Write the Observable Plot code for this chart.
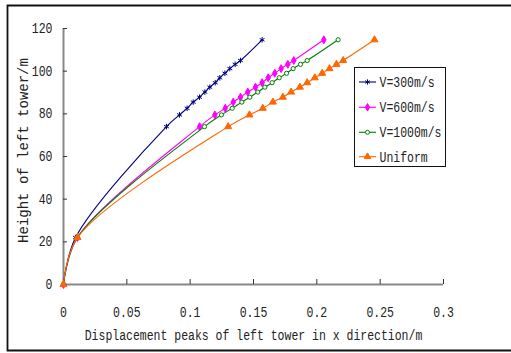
<!DOCTYPE html>
<html><head><meta charset="utf-8">
<script src="https://cdn.jsdelivr.net/npm/d3@7"></script>
<script src="https://cdn.jsdelivr.net/npm/@observablehq/plot@0.6"></script>
<style>body{margin:0;background:#fff}</style>
</head><body><div id="chart"></div>
<script>
const seriesNames = ["V=300m/s", "V=600m/s", "V=1000m/s", "Uniform"];
const heights = [0, 22, 74, 79.5, 82.6, 85.5, 87.8, 90.2, 92.5, 94.6, 96.9, 99, 101.2, 103.2, 105, 114.7];
const x300  = [0, 0.0095, 0.0813, 0.0916, 0.0976, 0.1024, 0.1074, 0.1116, 0.1155, 0.1198, 0.1234, 0.1274, 0.1313, 0.1355, 0.1397, 0.1568];
const x600  = [0, 0.0110, 0.1074, 0.1195, 0.1277, 0.1340, 0.1397, 0.1455, 0.1516, 0.1568, 0.1616, 0.1668, 0.1718, 0.1771, 0.1818, 0.2055];
const x1000 = [0, 0.0110, 0.1113, 0.1247, 0.1332, 0.1408, 0.1471, 0.1534, 0.1590, 0.1647, 0.1703, 0.1761, 0.1813, 0.1871, 0.1924, 0.2168];
const xUni  = [0, 0.0111, 0.1300, 0.1468, 0.1573, 0.1653, 0.1732, 0.1797, 0.1866, 0.1924, 0.1984, 0.2042, 0.2100, 0.2155, 0.2208, 0.2455];
const xTicks = [0, 0.05, 0.1, 0.15, 0.2, 0.25, 0.3];
const xTickLabels = ["0", "0.05", "0.1", "0.15", "0.2", "0.25", "0.3"];
const yTicks = [0, 20, 40, 60, 80, 100, 120];
const xTitle = "Displacement peaks of left tower in x direction/m";
const yTitle = "Height of left tower/m";
const colors = ["#000080", "#FF00FF", "#008000", "#FF6600"];
const symbols = ["asterisk", "diamond", "circle", "triangle"];
const fills = ["none", "#FF00FF", "white", "#FF6600"];
const rs = [2.6, 2.4, 2.1, 2.6];

const allX = [x300, x600, x1000, xUni];
const data = [];
allX.forEach((xs, i) => xs.forEach((x, j) => data.push({series: seriesNames[i], x, y: heights[j]})));

const marks = [
  Plot.ruleY([0], {stroke: "#888", strokeWidth: 2}),
  Plot.ruleX([0], {stroke: "#888", strokeWidth: 2}),
  Plot.axisX({ticks: xTicks, tickFormat: d => xTickLabels[xTicks.indexOf(d)], tickSize: -5, tickPadding: 28, stroke: "#333", label: null, fill: "#222"}),
  Plot.axisY({ticks: yTicks, tickSize: -4, tickPadding: 15, stroke: "#333", label: null, fill: "#222"}),
  Plot.text([xTitle], {frameAnchor: "bottom", textAnchor: "middle", dy: 55, fill: "#222"}),
  Plot.text([yTitle], {frameAnchor: "left", textAnchor: "middle", rotate: -90, dx: -40, dy: -6, fill: "#222"})
];
seriesNames.forEach((s, i) => {
  const d = data.filter(p => p.series === s);
  marks.push(Plot.line(d, {x: "x", y: "y", stroke: colors[i], strokeWidth: 1.1, curve: "catmull-rom"}));
  marks.push(Plot.dot(d, {x: "x", y: "y", symbol: () => symbols[i], r: rs[i], stroke: colors[i], fill: fills[i], strokeWidth: 1}));
});

const chart = Plot.plot({
  width: 511, height: 353,
  marginLeft: 63, marginRight: 68, marginTop: 28, marginBottom: 69,
  x: {domain: [0, 0.3]},
  y: {domain: [0, 120]},
  symbol: {type: "identity"},
  style: {fontFamily: "Liberation Mono", fontSize: "14px", background: "white"},
  marks
});
document.getElementById("chart").append(chart);

const svg = d3.select(chart);
// outer figure frame
svg.append("path").attr("d", "M511,5.5H7.5V350.5H511").attr("fill", "none").attr("stroke", "#111").attr("stroke-width", 1.8);

// legend
const lg = svg.append("g").attr("text-anchor", "start");
lg.append("rect").attr("x", 354.5).attr("y", 67.5).attr("width", 91).attr("height", 99).attr("fill", "white").attr("stroke", "#111");
const rowsY = [82, 107.3, 132.3, 156.7];
const symMap = {asterisk: d3.symbolAsterisk, diamond: d3.symbolDiamond, circle: d3.symbolCircle, triangle: d3.symbolTriangle};
seriesNames.forEach((s, i) => {
  const y = rowsY[i];
  lg.append("line").attr("x1", 359).attr("x2", 376).attr("y1", y).attr("y2", y).attr("stroke", colors[i]).attr("stroke-width", 1.1);
  lg.append("path").attr("transform", `translate(367.5,${y})`)
    .attr("d", d3.symbol(symMap[symbols[i]], Math.PI * rs[i] * rs[i] * 0.9)())
    .attr("stroke", colors[i]).attr("fill", fills[i]);
  lg.append("text").attr("x", 379.5).attr("y", y).attr("dy", "0.35em").attr("fill", "#222")
    .attr("text-anchor", "start")
    .style("font-family", "Liberation Mono").style("font-size", "14px").text(s);
});

// narrow half-width look
chart.querySelectorAll("text").forEach(t => {
  const isY = t.textContent === yTitle;
  const f = isY ? 1.0 : 0.82;
  const L = t.getComputedTextLength();
  if (L > 0 && f !== 1) { t.setAttribute("textLength", L * f); t.setAttribute("lengthAdjust", "spacingAndGlyphs"); }
});
</script></body></html>
